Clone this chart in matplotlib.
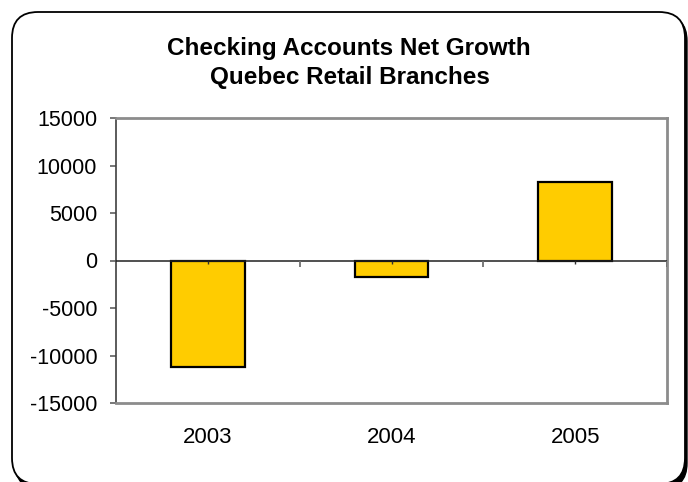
import matplotlib
matplotlib.use("Agg")
import matplotlib.pyplot as plt
from matplotlib.patches import FancyBboxPatch
import numpy as np

years = ["2003", "2004", "2005"]
net_growth = [-11200, -1750, 8300]
y_ticks = [-15000, -10000, -5000, 0, 5000, 10000, 15000]
title_lines = ["Checking Accounts Net Growth", "Quebec Retail Branches"]

plt.rcParams["font.family"] = ["Liberation Sans", "DejaVu Sans"]

W, H = 688, 482
fig = plt.figure(figsize=(W / 100, H / 100), dpi=100)

# Background canvas in pixel coordinates for the rounded frame and title
bg = fig.add_axes([0, 0, 1, 1], zorder=0)
bg.set_xlim(0, W)
bg.set_ylim(H, 0)
bg.axis("off")
shadow = FancyBboxPatch((15, 15), 672, 474, boxstyle="round,pad=0,rounding_size=26",
                        facecolor="black", edgecolor="black", lw=1)
frame = FancyBboxPatch((12, 12), 673, 472, boxstyle="round,pad=0,rounding_size=26",
                       facecolor="white", edgecolor="black", lw=1.3)
bg.add_patch(shadow)
bg.add_patch(frame)
bg.text(349, 55, title_lines[0], ha="center", va="baseline", fontsize=17.5, fontweight="bold")
bg.text(350, 84, title_lines[1], ha="center", va="baseline", fontsize=17.5, fontweight="bold")

# Plot area
left, right, top, bottom = 116, 667, 118, 403
ax = fig.add_axes([left / W, 1 - bottom / H, (right - left) / W, (bottom - top) / H], zorder=1)
ax.set_facecolor("white")
x = np.arange(len(years))
ax.bar(x, net_growth, width=0.4, color="#FFCC00", edgecolor="black", linewidth=1.6, zorder=3)
ax.set_xlim(-0.5, len(years) - 0.5)
ax.set_ylim(-15000, 15000)
ax.set_yticks(y_ticks)
ax.set_yticklabels([str(v) for v in y_ticks], fontsize=15.5)
ax.set_xticks(x)
ax.set_xticklabels(years, fontsize=16)
ax.tick_params(axis="x", length=0, pad=17)
ax.tick_params(axis="y", length=4.5, width=1.2, color="#606060", pad=9)

for side in ["top", "right", "bottom"]:
    ax.spines[side].set_color("#8c8c8c")
    ax.spines[side].set_linewidth(2)
ax.spines["left"].set_color("#404040")
ax.spines["left"].set_linewidth(1.2)

# Category axis drawn at zero with its tick marks
ax.axhline(0, color="#202020", lw=1.1, zorder=4)
bounds = np.arange(len(years) + 1) - 0.5
ax.vlines(bounds[1:], -650, 0, color="#707070", lw=1.3, zorder=4)
ax.vlines(x, -330, 0, color="#303030", lw=1.0, zorder=4)

fig.savefig("out.png", dpi=100)
